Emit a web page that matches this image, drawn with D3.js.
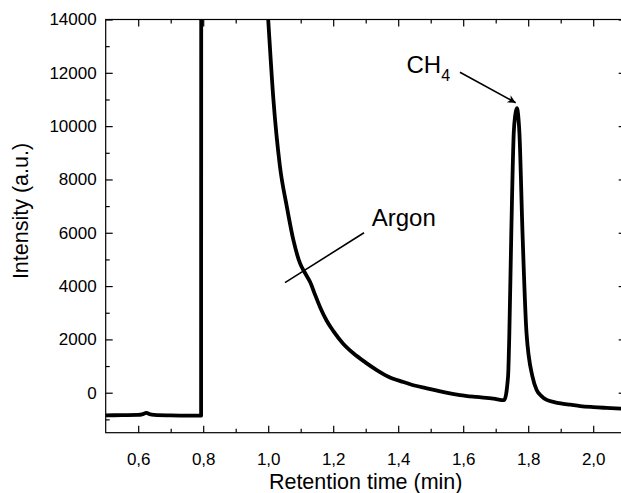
<!DOCTYPE html>
<html>
<head>
<meta charset="utf-8">
<script src="https://cdn.jsdelivr.net/npm/d3@7"></script>
<style>
  body { margin: 0; background: #fff; }
  svg { display: block; font-family: "Liberation Sans", Arial, sans-serif; }
</style>
</head>
<body>
<script>
const width = 621;
const height = 493;
const margin = {top: 19.5, left: 105.7, plotW: 520, plotH: 413.2};

// chromatogram (time in min, intensity in a.u.)
// values above 14000 are off the top of the frame and get clipped
const time = [0.50, 0.55, 0.60, 0.612, 0.625, 0.638, 0.65, 0.70, 0.75, 0.788, 0.7935, 0.7945, 0.90,
  0.985, 1.000, 1.016, 1.036, 1.057, 1.077, 1.098, 1.113, 1.129, 1.145, 1.160, 1.180, 1.200, 1.230,
  1.262, 1.300, 1.334, 1.370, 1.416, 1.450, 1.488, 1.540, 1.590, 1.640, 1.693, 1.726,
  1.738, 1.742, 1.748, 1.7555, 1.760, 1.7652, 1.770, 1.773, 1.7825, 1.7948, 1.8132, 1.826,
  1.840, 1.857, 1.880, 1.900, 1.930, 1.960, 2.000, 2.040, 2.085, 2.100];
const intensity = [-850, -840, -830, -810, -760, -815, -830, -850, -860, -860, -860, 40000, 60000,
  17000, 14000, 11000, 8500, 7000, 5750, 4850, 4500, 4150, 3650, 3200, 2700, 2320, 1850,
  1480, 1130, 850, 600, 400, 270, 165, 20, -90, -160, -220, -280,
  600, 2240, 5990, 9740, 10400, 10670, 10300, 9740, 5990, 2240, 600, 100,
  -120, -270, -350, -400, -450, -500, -540, -570, -600, -610];

const xMajor = [0.6, 0.8, 1.0, 1.2, 1.4, 1.6, 1.8, 2.0];
const xMinor = [0.7, 0.9, 1.1, 1.3, 1.5, 1.7, 1.9];
const yMajor = [0, 2000, 4000, 6000, 8000, 10000, 12000, 14000];
const yMinor = [-1000, 1000, 3000, 5000, 7000, 9000, 11000, 13000];

// annotations, in data units
const ch4Label = {t: 1.4255, v: 11980};
const ch4Arrow = {t0: 1.590, v0: 12020, t1: 1.7615, v1: 10880};
const argonLabel = {t: 1.3185, v: 6235};
const argonLine = {t0: 1.0517, v0: 4127, t1: 1.2948, v1: 6002};

const data = time.map((t, i) => ({t: t, v: intensity[i]}));

const x = d3.scaleLinear().domain([0.5, 2.1]).range([margin.left, margin.left + margin.plotW]);
const y = d3.scaleLinear().domain([-1500, 14000]).range([margin.top + margin.plotH, margin.top]);

const svg = d3.select("body").append("svg")
  .attr("width", width)
  .attr("height", height);

svg.append("defs").append("clipPath").attr("id", "plotclip")
  .append("rect")
  .attr("x", x(0.5)).attr("y", y(14000))
  .attr("width", x(2.1) - x(0.5)).attr("height", y(-1500) - y(14000));

svg.select("defs").append("marker")
  .attr("id", "arrowhead")
  .attr("viewBox", "0 0 10 10")
  .attr("refX", 10).attr("refY", 5)
  .attr("markerWidth", 10).attr("markerHeight", 8)
  .attr("markerUnits", "userSpaceOnUse")
  .attr("orient", "auto")
  .append("path")
  .attr("d", "M0,0 L10,5 L0,10 L3,5 Z")
  .attr("fill", "#000");

const fmtX = d => d3.format(".1f")(d).replace(".", ",");

function styleAxis(g) {
  g.select(".domain").remove();
  g.selectAll(".tick line").attr("stroke", "#000").attr("stroke-width", 1.2);
  g.selectAll(".tick text").attr("fill", "#000").attr("font-size", 17)
    .attr("font-family", "'Liberation Sans', Arial, sans-serif");
}

// bottom
svg.append("g").attr("transform", "translate(0," + y(-1500) + ")")
  .call(d3.axisBottom(x).tickValues(xMajor).tickSize(-7).tickPadding(20).tickFormat(fmtX))
  .call(styleAxis);
svg.append("g").attr("transform", "translate(0," + y(-1500) + ")")
  .call(d3.axisBottom(x).tickValues(xMinor).tickSize(-4).tickFormat(""))
  .call(styleAxis);
// top
svg.append("g").attr("transform", "translate(0," + y(14000) + ")")
  .call(d3.axisTop(x).tickValues(xMajor).tickSize(-7).tickFormat(""))
  .call(styleAxis);
svg.append("g").attr("transform", "translate(0," + y(14000) + ")")
  .call(d3.axisTop(x).tickValues(xMinor).tickSize(-4).tickFormat(""))
  .call(styleAxis);
// left
svg.append("g").attr("transform", "translate(" + x(0.5) + ",0)")
  .call(d3.axisLeft(y).tickValues(yMajor).tickSize(-7).tickPadding(9).tickFormat(d3.format("d")))
  .call(styleAxis);
svg.append("g").attr("transform", "translate(" + x(0.5) + ",0)")
  .call(d3.axisLeft(y).tickValues(yMinor).tickSize(-4).tickFormat(""))
  .call(styleAxis);
// right
svg.append("g").attr("transform", "translate(" + x(2.1) + ",0)")
  .call(d3.axisRight(y).tickValues(yMajor).tickSize(-7).tickFormat(""))
  .call(styleAxis);
svg.append("g").attr("transform", "translate(" + x(2.1) + ",0)")
  .call(d3.axisRight(y).tickValues(yMinor).tickSize(-4).tickFormat(""))
  .call(styleAxis);

// frame
svg.append("rect")
  .attr("x", x(0.5)).attr("y", y(14000))
  .attr("width", x(2.1) - x(0.5)).attr("height", y(-1500) - y(14000))
  .attr("fill", "none").attr("stroke", "#000").attr("stroke-width", 1.2);

// the trace
const line = d3.line()
  .x(d => x(d.t))
  .y(d => y(d.v))
  .curve(d3.curveMonotoneX);

svg.append("path")
  .datum(data)
  .attr("clip-path", "url(#plotclip)")
  .attr("d", line)
  .attr("fill", "none")
  .attr("stroke", "#000")
  .attr("stroke-width", 3.8)
  .attr("stroke-linejoin", "round");

// axis titles
svg.append("text")
  .attr("x", (x(0.5) + x(2.1)) / 2)
  .attr("y", 489)
  .attr("text-anchor", "middle")
  .attr("font-size", 21.5)
  .text("Retention time (min)");

svg.append("text")
  .attr("transform", "translate(28," + 211 + ") rotate(-90)")
  .attr("text-anchor", "middle")
  .attr("font-size", 21.5)
  .text("Intensity (a.u.)");

// annotations
const ch4 = svg.append("text")
  .attr("x", x(ch4Label.t))
  .attr("y", y(ch4Label.v))
  .attr("font-size", 24);
ch4.append("tspan").text("CH");
ch4.append("tspan").attr("font-size", 16).attr("dy", 8).text("4");

svg.append("line")
  .attr("x1", x(ch4Arrow.t0)).attr("y1", y(ch4Arrow.v0))
  .attr("x2", x(ch4Arrow.t1)).attr("y2", y(ch4Arrow.v1))
  .attr("stroke", "#000").attr("stroke-width", 1.6)
  .attr("marker-end", "url(#arrowhead)");

svg.append("text")
  .attr("x", x(argonLabel.t))
  .attr("y", y(argonLabel.v))
  .attr("font-size", 24)
  .text("Argon");

svg.append("line")
  .attr("x1", x(argonLine.t0)).attr("y1", y(argonLine.v0))
  .attr("x2", x(argonLine.t1)).attr("y2", y(argonLine.v1))
  .attr("stroke", "#000").attr("stroke-width", 1.6);
</script>
</body>
</html>
